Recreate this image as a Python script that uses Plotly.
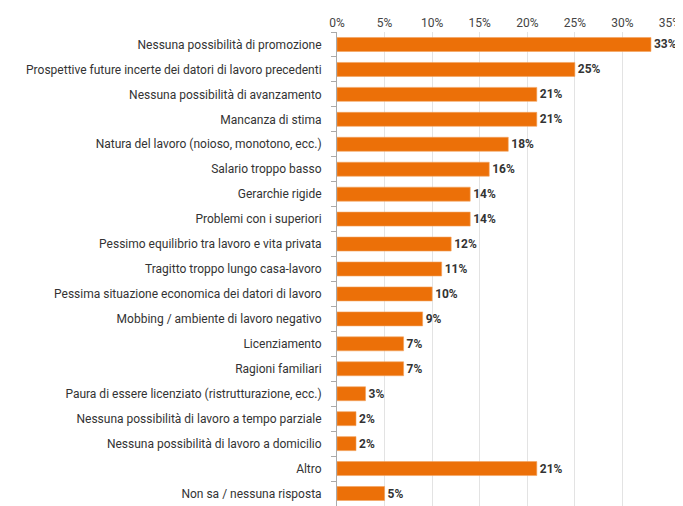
import plotly.graph_objects as go

categories = [
    "Nessuna possibilità di promozione",
    "Prospettive future incerte dei datori di lavoro precedenti",
    "Nessuna possibilità di avanzamento",
    "Mancanza di stima",
    "Natura del lavoro (noioso, monotono, ecc.)",
    "Salario troppo basso",
    "Gerarchie rigide",
    "Problemi con i superiori",
    "Pessimo equilibrio tra lavoro e vita privata",
    "Tragitto troppo lungo casa-lavoro",
    "Pessima situazione economica dei datori di lavoro",
    "Mobbing / ambiente di lavoro negativo",
    "Licenziamento",
    "Ragioni familiari",
    "Paura di essere licenziato (ristrutturazione, ecc.)",
    "Nessuna possibilità di lavoro a tempo parziale",
    "Nessuna possibilità di lavoro a domicilio",
    "Altro",
    "Non sa / nessuna risposta",
]
values = [33, 25, 21, 21, 18, 16, 14, 14, 12, 11, 10, 9, 7, 7, 3, 2, 2, 21, 5]
tick_vals = [0, 5, 10, 15, 20, 25, 30, 35]
tick_text = ["0%", "5%", "10%", "15%", "20%", "25%", "30%", "35%"]

fig = go.Figure(go.Bar(
    x=values,
    y=categories,
    orientation="h",
    marker=dict(color="#EC7008", line=dict(color="#F3A25E", width=0.6)),
    text=[f"{v}%" for v in values],
    textposition="outside",
    cliponaxis=False,
    textfont=dict(family="Roboto", size=12, color="#333333", weight="bold"),
))

fig.update_layout(
    width=683, height=506,
    margin=dict(l=329, r=21, t=21, b=8),
    paper_bgcolor="white", plot_bgcolor="white",
    bargap=0.44,
    showlegend=False,
    font=dict(family="Roboto", size=12, color="#333333"),
)
fig.update_xaxes(
    side="top", range=[0, 35], tickvals=tick_vals, ticktext=tick_text,
    showgrid=True, gridcolor="#e3e3e3", gridwidth=1, zeroline=False,
    tickfont=dict(size=12, color="#444444"), ticks="", ticklabelstandoff=2,
)
fig.update_yaxes(
    autorange="reversed", showline=True, linecolor="#aaaaaa", linewidth=1,
    ticks="outside", tickson="boundaries", ticklen=5, tickcolor="#aaaaaa",
    tickfont=dict(size=12, color="#333333"), ticklabelstandoff=12,
)

fig.write_html("out.html")
